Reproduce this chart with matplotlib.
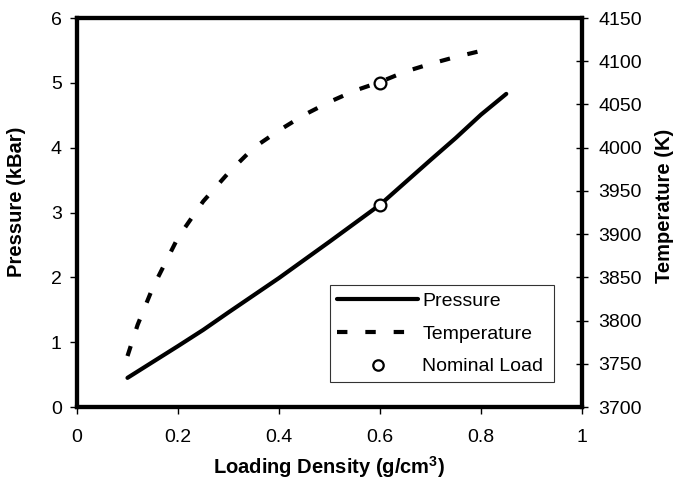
import matplotlib
matplotlib.use('Agg')
import matplotlib.pyplot as plt
from matplotlib.lines import Line2D

plt.rcParams['font.family'] = ['Liberation Sans', 'DejaVu Sans']
plt.rcParams['mathtext.fontset'] = 'custom'
plt.rcParams['mathtext.rm'] = 'Liberation Sans'
plt.rcParams['mathtext.bf'] = 'Liberation Sans:bold'

# Data
density_p = [0.1, 0.2, 0.25, 0.3, 0.4, 0.5, 0.6, 0.7, 0.75, 0.8, 0.85]
pressure = [0.45, 0.94, 1.19, 1.46, 1.99, 2.55, 3.12, 3.81, 4.15, 4.51, 4.83]

density_t = [0.1, 0.12, 0.15, 0.2, 0.25, 0.3, 0.35, 0.4, 0.45, 0.5,
             0.55, 0.6, 0.65, 0.7, 0.75, 0.8, 0.815]
temperature = [3759, 3795, 3838, 3896, 3938, 3971, 4000, 4020, 4038, 4053,
               4066, 4076, 4088, 4097, 4105, 4112, 4114]

nominal_density = 0.6
nominal_pressure = 3.12
nominal_temperature = 4075

dash = (2.5, 4.3)

fig = plt.figure(figsize=(6.73, 4.93), dpi=100)
ax = fig.add_axes([0.1144, 0.1744, 0.7504, 0.789])
ax2 = ax.twinx()

ax.plot(density_p, pressure, color='black', lw=3, solid_capstyle='round')
ax.plot([nominal_density], [nominal_pressure], 'o', ms=8.5, mfc='white',
        mec='black', mew=1.6, zorder=5)
ax2.plot(density_t, temperature, color='black', lw=3,
         dashes=dash, dash_capstyle='butt')
ax2.plot([nominal_density], [nominal_temperature], 'o', ms=8.5, mfc='white',
         mec='black', mew=1.6, zorder=5)

ax.set_xlim(0, 1)
ax.set_ylim(0, 6)
ax2.set_ylim(3700, 4150)
ax.set_xticks([0, 0.2, 0.4, 0.6, 0.8, 1])
ax.set_xticklabels(['0', '0.2', '0.4', '0.6', '0.8', '1'])
ax.set_yticks(range(0, 7))
ax2.set_yticks(range(3700, 4151, 50))

for a in (ax, ax2):
    for s in a.spines.values():
        s.set_linewidth(3)
ax.tick_params(axis='y', direction='out', length=5, width=1, labelsize=14, pad=6)
ax.tick_params(axis='x', direction='out', length=5, width=1, labelsize=14, pad=11)
ax2.tick_params(axis='y', direction='inout', length=8, width=1, labelsize=14, pad=8)

ax.set_xlabel(r'Loading Density (g/cm$\mathbf{^3}$)', fontsize=14.5,
              fontweight='bold', labelpad=6)
ax.set_ylabel('Pressure (kBar)', fontsize=14.5, fontweight='bold')
ax.yaxis.set_label_coords(-0.10, 0.527)
ax2.set_ylabel('Temperature (K)', fontsize=14.5, fontweight='bold')
ax2.yaxis.set_label_coords(1.145, 0.517)

handles = [
    Line2D([], [], color='black', lw=3, solid_capstyle='round'),
    Line2D([], [], color='black', lw=3, dashes=dash, dash_capstyle='butt'),
    Line2D([], [], ls='none', marker='o', ms=7.5, mfc='white', mec='black', mew=1.6),
]
leg = ax2.legend(handles, ['Pressure', 'Temperature', 'Nominal Load'],
                 loc='lower left', bbox_to_anchor=(0.501, 0.064, 0.444, 0.255),
                 mode='expand', fontsize=14, frameon=True, fancybox=False,
                 handlelength=4.2, handletextpad=0.2, borderaxespad=0,
                 labelspacing=0.78, borderpad=0.35)
leg.get_frame().set_edgecolor('black')
leg.get_frame().set_linewidth(0.8)

fig.savefig('out.png', dpi=100)
